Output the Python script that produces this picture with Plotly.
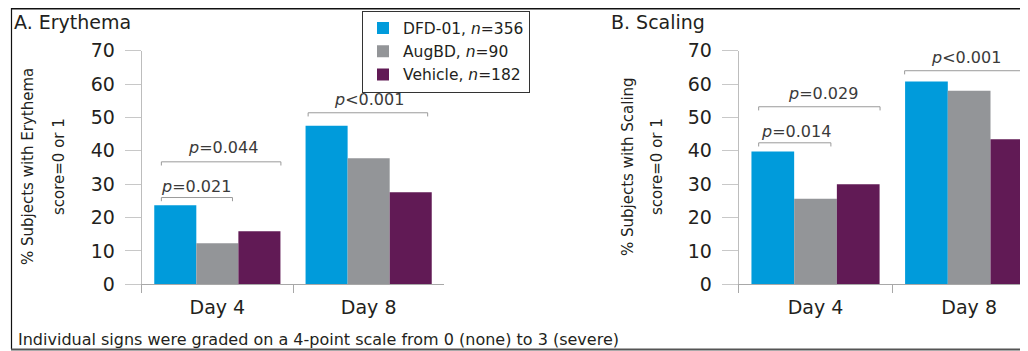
import plotly.graph_objects as go

# ---- data ----
days = ["Day 4", "Day 8"]
series_names = ["DFD-01, <i>n</i>=356", "AugBD, <i>n</i>=90", "Vehicle, <i>n</i>=182"]
series_colors = ["#009bdb", "#939598", "#611a55"]
erythema = {
    "DFD-01": [23.7, 47.5],
    "AugBD": [12.3, 37.8],
    "Vehicle": [15.9, 27.6],
}
scaling = {
    "DFD-01": [39.8, 60.8],
    "AugBD": [25.6, 58.0],
    "Vehicle": [30.0, 43.5],
}
y_ticks = [0, 10, 20, 30, 40, 50, 60, 70]
# comparisons: (axis suffix, x start, x end, bracket level, label)
comparisons = [
    ("", -0.37, 0.10, 26.0, "<i>p</i>=0.021"),
    ("", -0.37, 0.42, 36.7, "<i>p</i>=0.044"),
    ("", 0.60, 1.39, 51.4, "<i>p</i>&lt;0.001"),
    ("2", -0.37, 0.10, 42.4, "<i>p</i>=0.014"),
    ("2", -0.37, 0.42, 53.2, "<i>p</i>=0.029"),
    ("2", 0.58, 1.37, 64.0, "<i>p</i>&lt;0.001"),
]
label_pos = [
    ("", -0.14, 29.2),
    ("", 0.04, 40.9),
    ("", 1.0, 55.4),
    ("2", -0.13, 45.9),
    ("2", 0.05, 57.2),
    ("2", 0.98, 68.0),
]
footnote = "Individual signs were graded on a 4-point scale from 0 (none) to 3 (severe)"

FONT = "DejaVu Sans"
TXT = "#231f20"

# page body has an 8px default margin: work in reference-pixel coords and shift
OFF = 8
W, H = 1028 - OFF, 351 - OFF


def px(x):
    return (x - OFF) / W


def py(y):
    return 1 - (y - OFF) / H


fig = go.Figure()
keys = list(erythema.keys())
for i, k in enumerate(keys):
    fig.add_trace(go.Bar(x=days, y=erythema[k], name=series_names[i],
                         marker=dict(color=series_colors[i], line=dict(width=0)),
                         xaxis="x", yaxis="y", legendgroup=k, showlegend=True))
for i, k in enumerate(keys):
    fig.add_trace(go.Bar(x=days, y=scaling[k], name=series_names[i],
                         marker=dict(color=series_colors[i], line=dict(width=0)),
                         xaxis="x2", yaxis="y2", legendgroup=k, showlegend=False))

ytop, ybot = 50.7, 284.3
ydom = [py(ybot), py(ytop)]

yax = dict(range=[0, 70], tickvals=y_ticks, showgrid=False, zeroline=False,
           showline=True, linecolor="#bdbdbd", linewidth=1,
           ticks="outside", ticklen=16, tickcolor="#c8c8c8", tickwidth=1,
           tickfont=dict(family=FONT, size=19, color=TXT), ticklabelstandoff=6,
           domain=ydom, fixedrange=True, automargin=False)
xax = dict(type="category", showgrid=False, zeroline=False, showline=True,
           linecolor="#a8a8a8", linewidth=1, ticks="outside", tickson="boundaries",
           ticklen=8, tickcolor="#a8a8a8", tickwidth=1, automargin=False,
           ticklabelstandoff=6,
           tickfont=dict(family=FONT, size=19, color=TXT))

fig.update_layout(
    width=W, height=H, margin=dict(l=0, r=0, t=0, b=0, autoexpand=False),
    paper_bgcolor="white", plot_bgcolor="white",
    barmode="group", bargap=0.166, bargroupgap=0,
    xaxis=dict(xax, domain=[px(141.7), px(444.3)], range=[-0.5, 1.5], anchor="y"),
    yaxis=dict(yax, anchor="x"),
    xaxis2=dict(xax, domain=[px(738.7), 1.0], range=[-0.5, 1.383], anchor="y2"),
    yaxis2=dict(yax, anchor="x2"),
    showlegend=True,
    legend=dict(x=px(362), y=py(10.5), xanchor="left", yanchor="top",
                bgcolor="white", bordercolor="#333333", borderwidth=1,
                font=dict(family=FONT, size=15.5, color=TXT),
                tracegroupgap=0, itemwidth=30),
)

shapes = []
annotations = []
for ax, x0, x1, yv, label in comparisons:
    drop = 1.1
    shapes.append(dict(type="path", xref="x" + ax, yref="y" + ax,
                       path=f"M {x0} {yv - drop} L {x0} {yv} L {x1} {yv} L {x1} {yv - drop}",
                       line=dict(color="#9a9a9a", width=1)))
for (ax, x0, x1, yv, label), (_, lx, ly) in zip(comparisons, label_pos):
    annotations.append(dict(xref="x" + ax, yref="y" + ax, x=lx, y=ly, text=label,
                            showarrow=False, font=dict(family=FONT, size=16, color="#3a3a3a")))

# panel titles
annotations.append(dict(xref="paper", yref="paper", x=px(12), y=py(8.6), xanchor="left",
                        yanchor="top", text="A. Erythema", showarrow=False,
                        font=dict(family=FONT, size=19, color=TXT)))
annotations.append(dict(xref="paper", yref="paper", x=px(609), y=py(8.6), xanchor="left",
                        yanchor="top", text="B. Scaling", showarrow=False,
                        font=dict(family=FONT, size=19, color=TXT)))
# y-axis titles (two lines each)
for xl, t in [(28, "% Subjects with Erythema"), (59, "score=0 or 1"),
              (628, "% Subjects with Scaling"), (657, "score=0 or 1")]:
    annotations.append(dict(xref="paper", yref="paper", x=px(xl), y=py(167),
                            xanchor="center", yanchor="middle", textangle=-90, text=t,
                            showarrow=False, font=dict(family=FONT, size=15, color=TXT)))
# footnote
annotations.append(dict(xref="paper", yref="paper", x=px(16), y=py(339.5), xanchor="left",
                        yanchor="middle", text=footnote, showarrow=False,
                        font=dict(family=FONT, size=16, color=TXT)))

# frame
shapes.append(dict(type="line", xref="paper", yref="paper", x0=px(11), x1=1, y0=py(8.7), y1=py(8.7),
                   line=dict(color="#111111", width=1.5)))
shapes.append(dict(type="line", xref="paper", yref="paper", x0=px(11.5), x1=px(11.5), y0=py(8), y1=py(349),
                   line=dict(color="#111111", width=1.2)))
shapes.append(dict(type="line", xref="paper", yref="paper", x0=px(11), x1=1, y0=py(349.5), y1=py(349.5),
                   line=dict(color="#555555", width=2)))

fig.update_layout(shapes=shapes, annotations=annotations)
fig.write_html("out.html")
